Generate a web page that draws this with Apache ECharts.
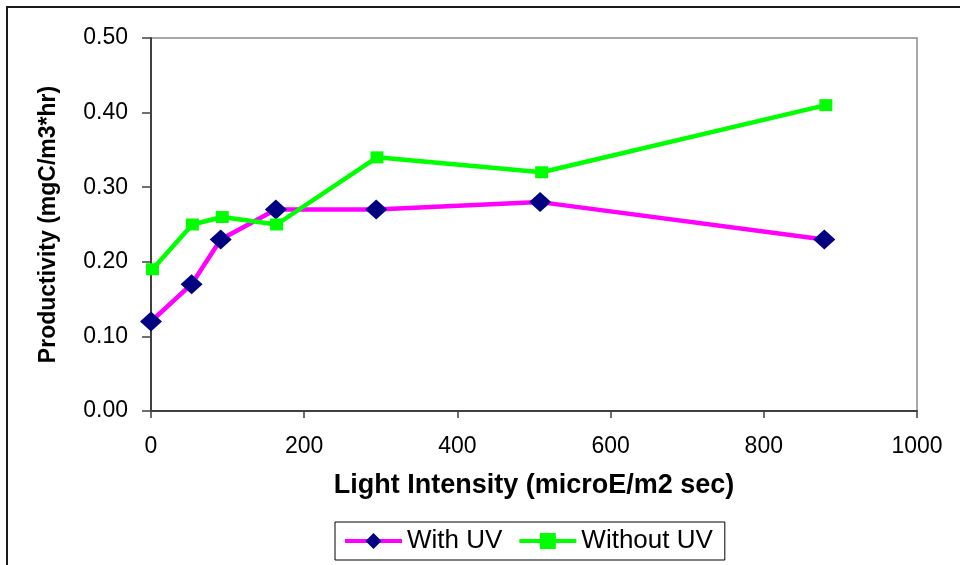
<!DOCTYPE html>
<html>
<head>
<meta charset="utf-8">
<script src="https://cdn.jsdelivr.net/npm/echarts@6/dist/echarts.min.js"></script>
<style>
  html, body { margin: 0; padding: 0; background: #fff; }
  #chart { width: 960px; height: 565px; }
</style>
</head>
<body>
<div id="chart"></div>
<script>
// Light intensity (microE/m2 sec) for each incubation
const lightWithUV = [0, 53, 91, 163, 294, 508, 879];
const lightWithoutUV = [2, 54, 93, 164, 295, 510, 881];
// Productivity (mgC/m3*hr)
const prodWithUV = [0.12, 0.17, 0.23, 0.27, 0.27, 0.28, 0.23];
const prodWithoutUV = [0.19, 0.25, 0.26, 0.25, 0.34, 0.32, 0.41];

const seriesNames = ['With UV', 'Without UV'];
const xTitle = 'Light Intensity (microE/m2 sec)';
const yTitle = 'Productivity (mgC/m3*hr)';

const FONT = '"Liberation Sans", Arial, sans-serif';

function pairs(xs, ys) {
  return xs.map((x, i) => [x, ys[i]]);
}

const chart = echarts.init(document.getElementById('chart'), null, { renderer: 'canvas' });

chart.setOption({
  backgroundColor: '#ffffff',
  animation: false,
  graphic: [{
    type: 'rect',
    shape: { x: 7, y: 7, width: 1000, height: 1000 },
    style: { fill: 'none', stroke: '#1a1a1a', lineWidth: 2 },
    z: 0,
    silent: true
  }],
  grid: {
    left: 151,
    right: 43,
    top: 38,
    bottom: 154,
    show: true,
    borderColor: '#8c8c8c',
    borderWidth: 1.5,
    backgroundColor: 'transparent'
  },
  legend: {
    left: 335,
    top: 522,
    orient: 'horizontal',
    itemWidth: 57,
    itemHeight: 20,
    itemGap: 15,
    padding: [6, 12, 6, 8],
    borderColor: '#000000',
    borderWidth: 1,
    backgroundColor: '#ffffff',
    lineStyle: { width: 4 },
    textStyle: { fontFamily: FONT, fontSize: 26, color: '#000000' },
    data: seriesNames
  },
  xAxis: {
    type: 'value',
    min: 0,
    max: 1000,
    interval: 200,
    name: xTitle,
    nameLocation: 'middle',
    nameGap: 61,
    nameTextStyle: { fontFamily: FONT, fontSize: 27, fontWeight: 'bold', color: '#000000' },
    axisLine: { show: true, lineStyle: { color: '#404040', width: 2 } },
    axisTick: { show: true, inside: false, length: 7, lineStyle: { color: '#404040', width: 1.5 } },
    axisLabel: {
      fontFamily: FONT, fontSize: 23, color: '#000000', margin: 24,
      formatter: v => String(v)
    },
    splitLine: { show: false }
  },
  yAxis: {
    type: 'value',
    min: 0,
    max: 0.5,
    interval: 0.1,
    name: yTitle,
    nameLocation: 'middle',
    nameGap: 91,
    nameTextStyle: { fontFamily: FONT, fontSize: 23, fontWeight: 'bold', color: '#000000' },
    axisLine: { show: true, lineStyle: { color: '#404040', width: 2 } },
    axisTick: { show: true, inside: false, length: 9, lineStyle: { color: '#404040', width: 1.5 } },
    axisLabel: {
      fontFamily: FONT, fontSize: 23, color: '#000000', margin: 23,
      formatter: v => v.toFixed(2)
    },
    splitLine: { show: false }
  },
  series: [
    {
      name: seriesNames[0],
      type: 'line',
      data: pairs(lightWithUV, prodWithUV),
      symbol: 'diamond',
      symbolSize: [22, 20],
      showAllSymbol: true,
      clip: false,
      lineStyle: { color: '#FF00FF', width: 4.5 },
      itemStyle: { color: '#000080', borderWidth: 0 },
      z: 3
    },
    {
      name: seriesNames[1],
      type: 'line',
      data: pairs(lightWithoutUV, prodWithoutUV),
      symbol: 'rect',
      symbolSize: [13, 12],
      showAllSymbol: true,
      clip: false,
      lineStyle: { color: '#00FF00', width: 4.5 },
      itemStyle: { color: '#00FF00', borderWidth: 0 },
      z: 4
    }
  ]
});
</script>
</body>
</html>
